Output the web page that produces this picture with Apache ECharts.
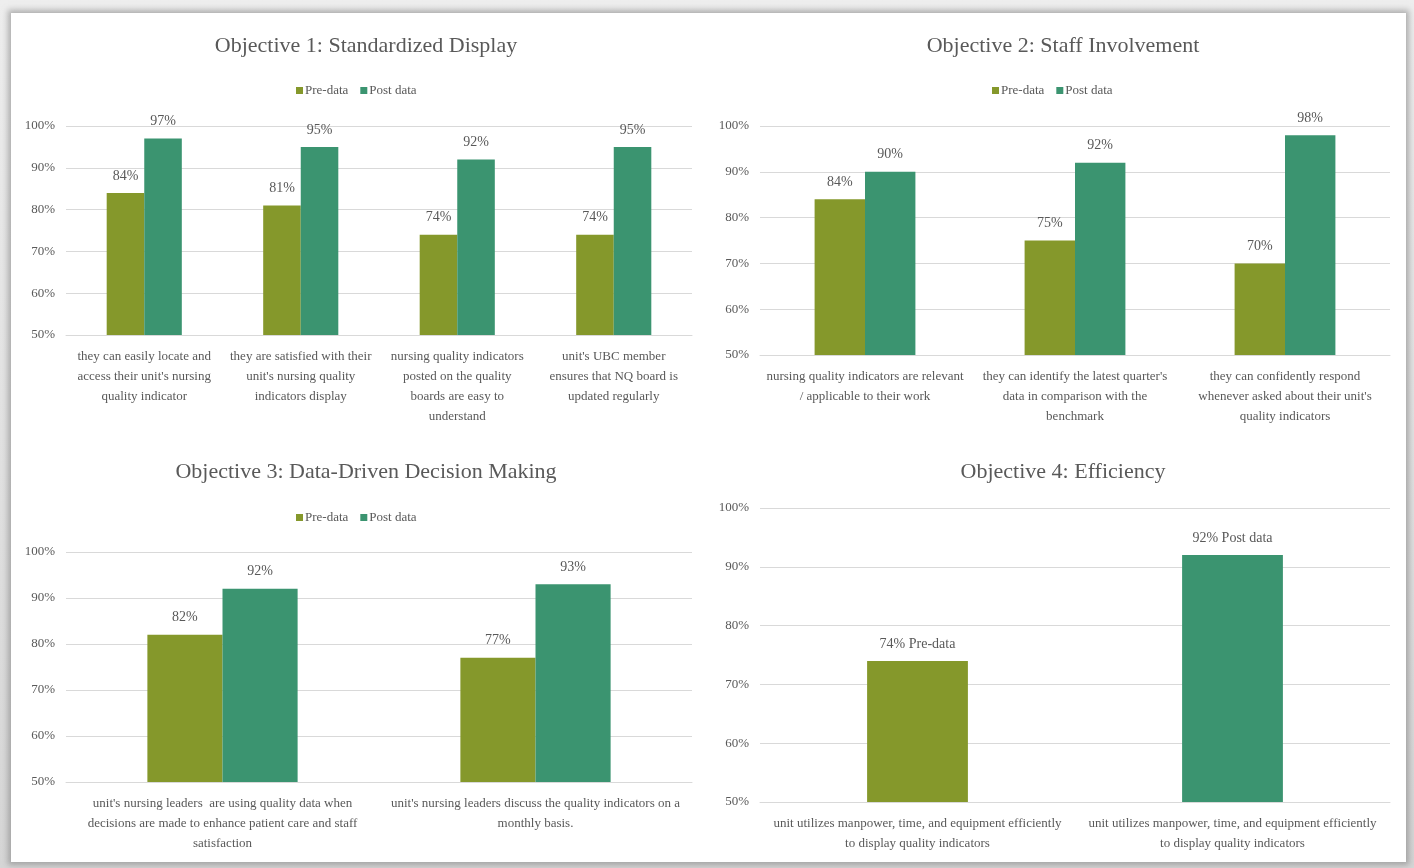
<!DOCTYPE html>
<html>
<head>
<meta charset="utf-8">
<script src="https://cdn.jsdelivr.net/npm/echarts@6/dist/echarts.min.js"></script>
<style>
  html, body { margin: 0; padding: 0; width: 1414px; height: 868px; overflow: hidden; }
  #frame { position: absolute; left: 0; top: 0; width: 1414px; height: 868px;
    background: linear-gradient(to bottom, #eeeeee, #d6d6d6); }
  #panel { position: absolute; left: 11px; top: 13px; width: 1395px; height: 849px; background: #ffffff;
    box-shadow: 0 0 6px 3px rgba(120,120,120,0.55); }
  #chart { position: absolute; left: 0; top: 0; width: 1414px; height: 868px; }
</style>
</head>
<body>
<div id="frame"></div>
<div id="panel"></div>
<div id="chart"></div>
<script>
// ---- Data ----
const titles = [
  'Objective 1: Standardized Display',
  'Objective 2: Staff Involvement',
  'Objective 3: Data-Driven Decision Making',
  'Objective 4: Efficiency'
];
const seriesNames = ['Pre-data', 'Post data'];
const yTicks = [50, 60, 70, 80, 90, 100];

const cats1 = [
  'they can easily locate and\naccess their unit\'s nursing\nquality indicator',
  'they are satisfied with their\nunit\'s nursing quality\nindicators display',
  'nursing quality indicators\nposted on the quality\nboards are easy to\nunderstand',
  'unit\'s UBC member\nensures that NQ board is\nupdated regularly'
];
const pre1 = [84, 81, 74, 74];
const post1 = [97, 95, 92, 95];

const cats2 = [
  'nursing quality indicators are relevant\n/ applicable to their work',
  'they can identify the latest quarter\'s\ndata in comparison with the\nbenchmark',
  'they can confidently respond\nwhenever asked about their unit\'s\nquality indicators'
];
const pre2 = [84, 75, 70];
const post2 = [90, 92, 98];

const cats3 = [
  'unit\'s nursing leaders  are using quality data when\ndecisions are made to enhance patient care and staff\nsatisfaction',
  'unit\'s nursing leaders discuss the quality indicators on a\nmonthly basis.'
];
const pre3 = [82, 77];
const post3 = [92, 93];

const cats4 = [
  'unit utilizes manpower, time, and equipment efficiently\nto display quality indicators',
  'unit utilizes manpower, time, and equipment efficiently\nto display quality indicators'
];
const pre4 = [74, '-'];
const post4 = ['-', 92];

// ---- Styling ----
const FONT = '"Liberation Serif", "DejaVu Serif", serif';
const TXT = '#595959';
const C_PRE = '#85982B';
const C_POST = '#3B9470';

const grids = [
  { left: 66, right: 722, top: 126, bottom: 533 },
  { left: 760, right: 24, top: 126, bottom: 513 },
  { left: 66, right: 722, top: 552, bottom: 86 },
  { left: 760, right: 24, top: 508, bottom: 66 }
];
const catsList = [cats1, cats2, cats3, cats4];

const chart = echarts.init(document.getElementById('chart'), null, { renderer: 'canvas' });

const titleOpts = [
  { text: titles[0], left: 361, top: 30 },
  { text: titles[1], left: 1058, top: 30 },
  { text: titles[2], left: 361, top: 456 },
  { text: titles[3], left: 1058, top: 456 }
].map(t => ({
  text: t.text, left: t.left, top: t.top, textAlign: 'center',
  textStyle: { fontFamily: FONT, fontSize: 22, fontWeight: 'normal', color: TXT }
}));

const legendBase = {
  data: seriesNames, itemWidth: 7, itemHeight: 7, itemGap: 12, icon: 'rect',
  textStyle: { fontFamily: FONT, fontSize: 13, color: TXT, padding: [0, 0, 0, -3] },
  selectedMode: false
};
const legends = [
  Object.assign({}, legendBase, { left: 291, top: 79 }),
  Object.assign({}, legendBase, { left: 987, top: 79 }),
  Object.assign({}, legendBase, { left: 291, top: 506 })
];

const xAxes = catsList.map((c, i) => ({
  type: 'category', gridIndex: i, data: c,
  axisLine: { show: true, lineStyle: { color: '#d9d9d9', width: 1 } },
  axisTick: { show: false },
  axisLabel: { fontFamily: FONT, fontSize: 13, color: TXT, margin: 12, lineHeight: 20, interval: 0 }
}));
const yAxes = catsList.map((c, i) => ({
  type: 'value', gridIndex: i, min: yTicks[0], max: yTicks[yTicks.length - 1], interval: 10,
  axisLine: { show: false }, axisTick: { show: false },
  splitLine: { lineStyle: { color: '#d9d9d9', width: 1 } },
  axisLabel: { fontFamily: FONT, fontSize: 13, color: TXT, margin: 11, formatter: '{value}%' }
}));

function lbl(withName) {
  return {
    show: true, position: 'top', distance: 10,
    fontFamily: FONT, fontSize: 14, color: TXT,
    formatter: p => withName ? (p.value + '% ' + p.seriesName) : (p.value + '%')
  };
}
function bar(name, data, idx, color, gap, cgap, withName) {
  return {
    type: 'bar', name: name, data: data, xAxisIndex: idx, yAxisIndex: idx,
    itemStyle: { color: color }, barGap: gap, barCategoryGap: cgap,
    label: lbl(withName), silent: true
  };
}

const series = [
  bar(seriesNames[0], pre1, 0, C_PRE, '0%', '52%'),
  bar(seriesNames[1], post1, 0, C_POST, '0%', '52%'),
  bar(seriesNames[0], pre2, 1, C_PRE, '0%', '52%'),
  bar(seriesNames[1], post2, 1, C_POST, '0%', '52%'),
  bar(seriesNames[0], pre3, 2, C_PRE, '0%', '52%'),
  bar(seriesNames[1], post3, 2, C_POST, '0%', '52%'),
  bar(seriesNames[0], pre4, 3, C_PRE, '-100%', '68%', true),
  bar(seriesNames[1], post4, 3, C_POST, '-100%', '68%', true)
];

chart.setOption({
  animation: false,
  backgroundColor: 'transparent',
  title: titleOpts,
  legend: legends,
  grid: grids,
  xAxis: xAxes,
  yAxis: yAxes,
  series: series
});
</script>
</body>
</html>
